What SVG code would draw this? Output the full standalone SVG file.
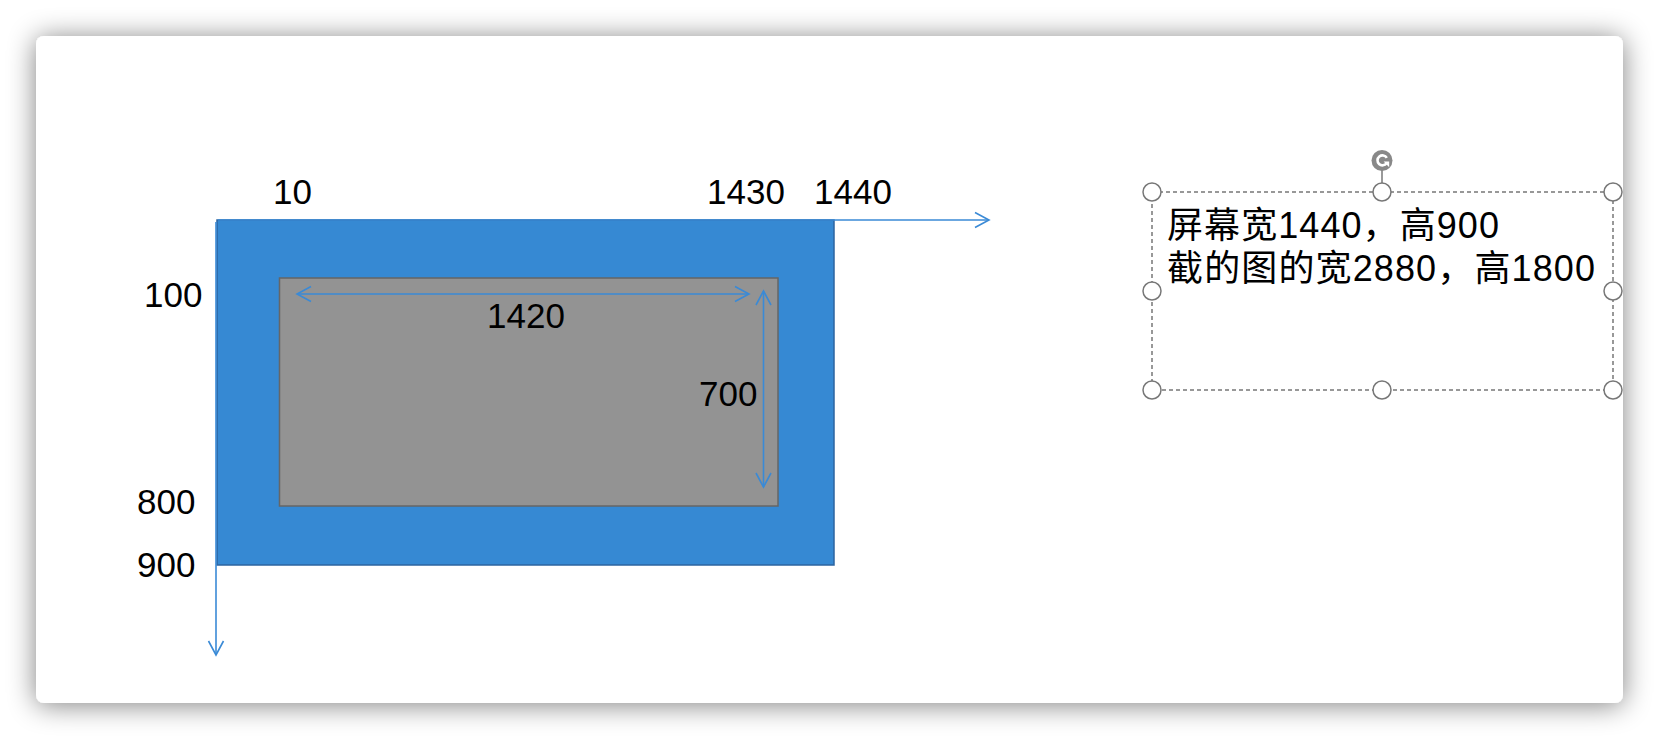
<svg xmlns="http://www.w3.org/2000/svg" width="1660" height="740" viewBox="0 0 1660 740">
  <defs>
    <filter id="shadow" x="-10%" y="-20%" width="120%" height="140%">
      <feGaussianBlur in="SourceAlpha" stdDeviation="14"/>
      <feOffset dy="2" result="b"/>
      <feComponentTransfer><feFuncA type="linear" slope="0.5"/></feComponentTransfer>
      <feMerge><feMergeNode/><feMergeNode in="SourceGraphic"/></feMerge>
    </filter>
    <marker id="arr" viewBox="0 0 20 20" refX="15" refY="10" markerWidth="20" markerHeight="20" markerUnits="userSpaceOnUse" orient="auto-start-reverse">
      <path d="M1,2.5 L15,10 L1,17.5" fill="none" stroke="#3a8ad6" stroke-width="1.6"/>
    </marker>
  </defs>
  <style>
    .lbl { font-family: "Liberation Sans", Arial, sans-serif; font-size: 35px; fill: #000; }
    .note { font-family: "Liberation Sans", "Noto Sans CJK SC", sans-serif; font-size: 36px; fill: #000; }
    .ax { stroke: #3a8ad6; stroke-width: 1.6; fill: none; }
    .handle { fill: #fff; stroke: #777; stroke-width: 1.5; }
  </style>
  <rect width="1660" height="740" fill="#fff"/>
  <rect id="card" x="36" y="36" width="1587" height="667" rx="8" fill="#fff" filter="url(#shadow)"/>

  <g id="screen">
    <rect x="217" y="220" width="617" height="345" fill="#3689d3" stroke="#2c64a0" stroke-width="1.5"/>
  </g>
  <g id="capture">
    <rect x="279.5" y="278" width="498.5" height="228" fill="#939393" stroke="#666" stroke-width="1.5"/>
  </g>

  <g id="connectors">
    <line class="ax" x1="218" y1="220" x2="989" y2="220" marker-end="url(#arr)"/>
    <line class="ax" x1="216" y1="222" x2="216" y2="655" marker-end="url(#arr)"/>
    <line class="ax" x1="297" y1="294" x2="749" y2="294" marker-start="url(#arr)" marker-end="url(#arr)"/>
    <line class="ax" x1="763.5" y1="291" x2="763.5" y2="487" marker-start="url(#arr)" marker-end="url(#arr)"/>
  </g>

  <g id="labels">
    <text class="lbl" x="273" y="204">10</text>
    <text class="lbl" x="707" y="204">1430</text>
    <text class="lbl" x="814" y="204">1440</text>
    <text class="lbl" x="144" y="307">100</text>
    <text class="lbl" x="137" y="514">800</text>
    <text class="lbl" x="137" y="577">900</text>
    <text class="lbl" x="487" y="328">1420</text>
    <text class="lbl" x="699" y="406">700</text>
  </g>

  <g id="textbox">
    <rect x="1152" y="192" width="461" height="198" fill="none" stroke="#777" stroke-width="1.5" stroke-dasharray="4 3"/>
    <text class="note" x="1167" y="238" textLength="332" lengthAdjust="spacing">屏幕宽1440，高900</text>
    <text class="note" x="1167" y="281" textLength="428" lengthAdjust="spacing">截的图的宽2880，高1800</text>
    <line x1="1382" y1="170" x2="1382" y2="183" stroke="#777" stroke-width="1.5"/>
    <circle cx="1382" cy="160.5" r="10.5" fill="#888"/>
    <path d="M1386.6,163.2 A5,5 0 1 1 1386.8,157.8" fill="none" stroke="#fff" stroke-width="2.6"/>
    <path d="M1383.6,161.6 L1389.2,161.6 L1389.2,167.2 Z" fill="#fff"/>
    <circle class="handle" cx="1152" cy="192" r="9"/>
    <circle class="handle" cx="1382" cy="192" r="9"/>
    <circle class="handle" cx="1613" cy="192" r="9"/>
    <circle class="handle" cx="1152" cy="291" r="9"/>
    <circle class="handle" cx="1613" cy="291" r="9"/>
    <circle class="handle" cx="1152" cy="390" r="9"/>
    <circle class="handle" cx="1382" cy="390" r="9"/>
    <circle class="handle" cx="1613" cy="390" r="9"/>
  </g>
</svg>
